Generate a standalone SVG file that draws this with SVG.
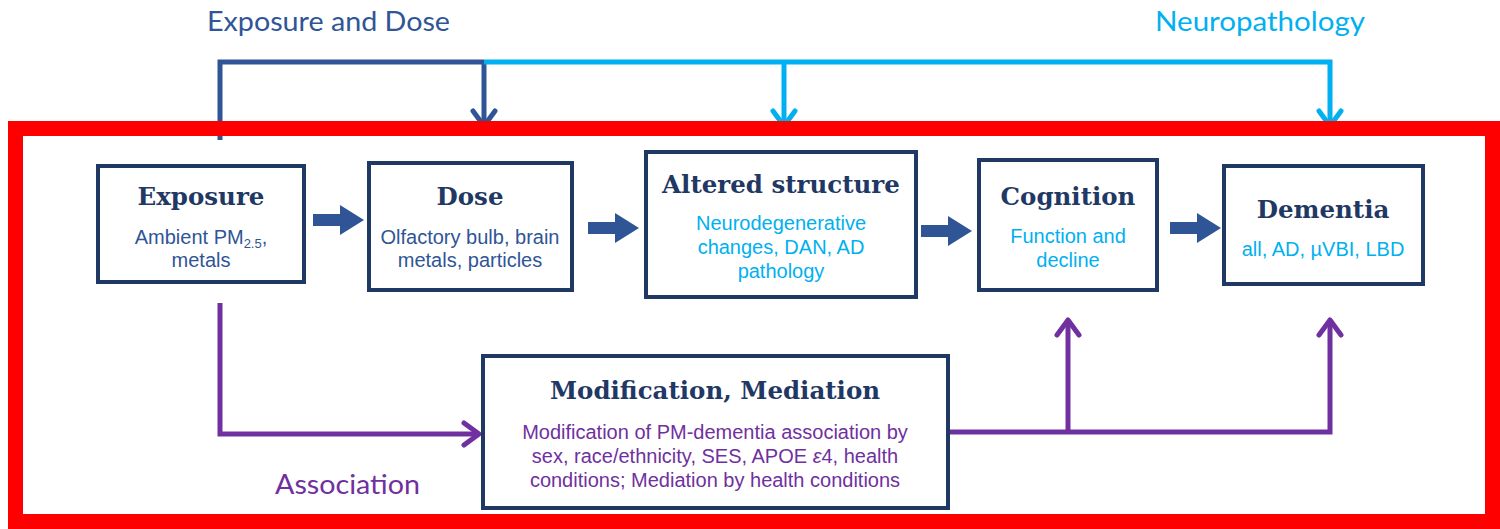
<svg xmlns="http://www.w3.org/2000/svg" width="1500" height="529" viewBox="0 0 1500 529">
<style>
.box{fill:#ffffff;stroke:#1f3864;stroke-width:4}
.title{font-family:"DejaVu Serif","Liberation Serif",serif;font-weight:bold;font-size:24.5px;fill:#1f3864;text-anchor:middle}
.sub{font-family:"Liberation Sans",Arial,sans-serif;font-size:20px;text-anchor:middle}
.dk{fill:#2f5597}
.lb{fill:#00b0f0}
.pu{fill:#7030a0}
.lbl{font-family:"Lato","DejaVu Sans",sans-serif;font-size:27px}
.conn{fill:none;stroke-width:5;stroke-linejoin:miter}
.blk{fill:#2f5597}
</style>
<defs>
<marker id="ahDk" markerUnits="userSpaceOnUse" viewBox="-20 -15 24 30" refX="0" refY="0" markerWidth="24" markerHeight="30" orient="auto" overflow="visible">
<path d="M-15,-11 L0,0 L-15,11" fill="none" stroke="#2f5597" stroke-width="5" stroke-linecap="round" stroke-linejoin="round"/>
</marker>
<marker id="ahLb" markerUnits="userSpaceOnUse" viewBox="-20 -15 24 30" refX="0" refY="0" markerWidth="24" markerHeight="30" orient="auto" overflow="visible">
<path d="M-15,-11 L0,0 L-15,11" fill="none" stroke="#00b0f0" stroke-width="5" stroke-linecap="round" stroke-linejoin="round"/>
</marker>
<marker id="ahPu" markerUnits="userSpaceOnUse" viewBox="-20 -15 24 30" refX="0" refY="0" markerWidth="24" markerHeight="30" orient="auto" overflow="visible">
<path d="M-15,-11 L0,0 L-15,11" fill="none" stroke="#7030a0" stroke-width="5" stroke-linecap="round" stroke-linejoin="round"/>
</marker>
<path id="blockArrow" d="M0,-6 H27 V-15 L51,0 L27,15 V6 H0 Z"/>
</defs>
<rect width="1500" height="529" fill="#ffffff"/>

<text class="lbl dk" x="207" y="31" textLength="243" lengthAdjust="spacingAndGlyphs">Exposure and Dose</text>
<text class="lbl lb" x="1155" y="31" textLength="210" lengthAdjust="spacingAndGlyphs">Neuropathology</text>
<text class="lbl pu" x="275" y="494" textLength="145" lengthAdjust="spacingAndGlyphs">Association</text>

<g id="connectors">
<path class="conn" stroke="#2f5597" d="M220,140 V62 H484"/>
<path class="conn" stroke="#2f5597" d="M484,62 V126" marker-end="url(#ahDk)"/>
<path class="conn" stroke="#00b0f0" d="M484,62 H1330 V126" marker-end="url(#ahLb)"/>
<path class="conn" stroke="#00b0f0" d="M784,62 V126" marker-end="url(#ahLb)"/>
<path class="conn" stroke="#7030a0" d="M220,303 V434 H479" marker-end="url(#ahPu)"/>
<path class="conn" stroke="#7030a0" d="M948,432 H1330 V320" marker-end="url(#ahPu)"/>
<path class="conn" stroke="#7030a0" d="M1068,432 V320" marker-end="url(#ahPu)"/>
<use href="#blockArrow" class="blk" x="313" y="220"/>
<use href="#blockArrow" class="blk" x="588" y="228"/>
<use href="#blockArrow" class="blk" x="921" y="231"/>
<use href="#blockArrow" class="blk" x="1170" y="228"/>
</g>

<g id="exposure">
<rect class="box" x="98" y="166" width="206" height="116"/>
<text class="title" x="201" y="205">Exposure</text>
<text class="sub dk" x="201" y="244">Ambient PM<tspan font-size="13" dy="4">2.5</tspan><tspan dy="-4">,</tspan></text>
<text class="sub dk" x="201" y="267">metals</text>
</g>

<g id="dose">
<rect class="box" x="369" y="163" width="203" height="127"/>
<text class="title" x="470" y="205">Dose</text>
<text class="sub dk" x="470" y="244">Olfactory bulb, brain</text>
<text class="sub dk" x="470" y="267">metals, particles</text>
</g>

<g id="altered">
<rect class="box" x="646" y="152" width="270" height="145"/>
<text class="title" x="781" y="193">Altered structure</text>
<text class="sub lb" x="781" y="230">Neurodegenerative</text>
<text class="sub lb" x="781" y="254">changes, DAN, AD</text>
<text class="sub lb" x="781" y="278">pathology</text>
</g>

<g id="cognition">
<rect class="box" x="979" y="160" width="178" height="130"/>
<text class="title" x="1068" y="205">Cognition</text>
<text class="sub lb" x="1068" y="243">Function and</text>
<text class="sub lb" x="1068" y="267">decline</text>
</g>

<g id="dementia">
<rect class="box" x="1224" y="166" width="199" height="118"/>
<text class="title" x="1323" y="218">Dementia</text>
<text class="sub lb" x="1323" y="256">all, AD, µVBI, LBD</text>
</g>

<g id="modification">
<rect class="box" x="483" y="356" width="465" height="152"/>
<text class="title" x="715" y="399">Modification, Mediation</text>
<text class="sub pu" x="715" y="439">Modification of PM-dementia association by</text>
<text class="sub pu" x="715" y="463">sex, race/ethnicity, SES, APOE <tspan font-style="italic">ε</tspan>4, health</text>
<text class="sub pu" x="715" y="487">conditions; Mediation by health conditions</text>
</g>

<rect id="frame" x="15.5" y="128.5" width="1477" height="393" fill="none" stroke="#ff0000" stroke-width="15"/>
</svg>
